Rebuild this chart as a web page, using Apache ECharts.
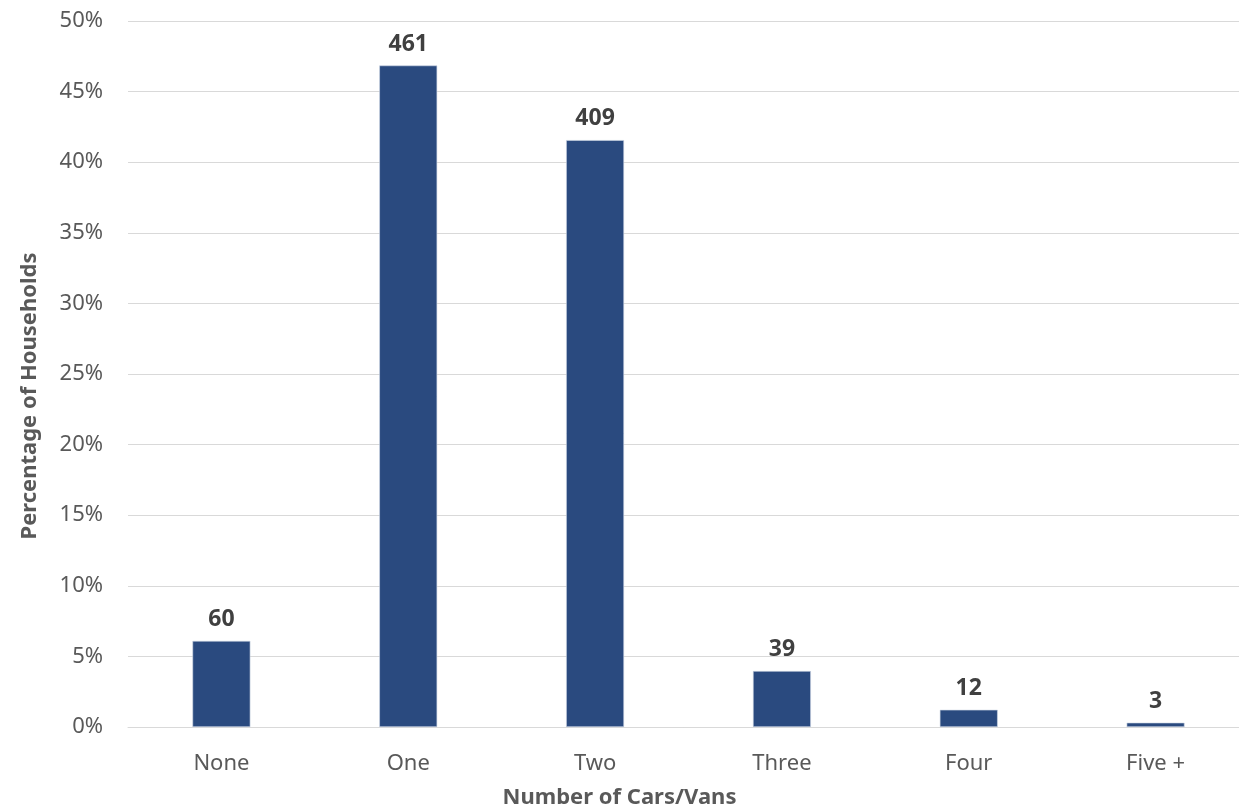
<!DOCTYPE html>
<html>
<head>
<meta charset="utf-8">
<script src="https://cdn.jsdelivr.net/npm/echarts@6/dist/echarts.min.js"></script>
<style>
  html, body { margin: 0; padding: 0; background: #ffffff; }
  #chart { width: 1239px; height: 812px; }
</style>
</head>
<body>
<div id="chart"></div>
<script>
// Households by number of cars/vans
const categories = ['None', 'One', 'Two', 'Three', 'Four', 'Five +'];
const households = [60, 461, 409, 39, 12, 3];
const yTicks = [0, 5, 10, 15, 20, 25, 30, 35, 40, 45, 50];

const total = households.reduce((a, b) => a + b, 0);
const shares = households.map(v => v / total * 100);

const FONT = '"Noto Sans", "Open Sans", sans-serif';

const chart = echarts.init(document.getElementById('chart'), null, { renderer: 'canvas' });
chart.setOption({
  backgroundColor: '#ffffff',
  animation: false,
  grid: { left: 128, width: 1121, top: 21, bottom: 85, containLabel: false, outerBoundsMode: 'none' },
  xAxis: {
    type: 'category',
    data: categories,
    axisLine: { show: true, lineStyle: { color: '#d9d9d9', width: 1 } },
    axisTick: { show: false },
    axisLabel: { color: '#595959', fontSize: 22, fontFamily: FONT, margin: 26 }
  },
  yAxis: {
    type: 'value',
    min: yTicks[0],
    max: yTicks[yTicks.length - 1],
    interval: 5,
    axisLine: { show: false },
    axisTick: { show: false },
    splitLine: { lineStyle: { color: '#d9d9d9', width: 1 } },
    axisLabel: { color: '#595959', fontSize: 22, fontFamily: FONT, margin: 25, formatter: '{value}%' }
  },
  series: [{
    type: 'bar',
    data: shares.map((s, i) => ({ value: s, count: households[i] })),
    barWidth: '31%',
    itemStyle: { color: '#2a4a7f', borderColor: '#d0d8e6', borderWidth: 0.6 },
    label: {
      show: true,
      position: 'top',
      distance: 10,
      color: '#404040',
      fontSize: 23,
      fontWeight: 'bold',
      fontFamily: FONT,
      formatter: p => String(households[p.dataIndex])
    }
  }],
  graphic: [
    {
      type: 'text',
      left: 'center',
      top: 787,
      style: { text: 'Number of Cars/Vans', fill: '#595959', font: 'bold 22px ' + FONT }
    },
    {
      type: 'text',
      x: 19,
      y: 396,
      rotation: Math.PI / 2,
      style: {
        text: 'Percentage of Households', fill: '#595959', font: 'bold 22px ' + FONT,
        align: 'center', verticalAlign: 'top'
      }
    }
  ]
});
</script>
</body>
</html>
